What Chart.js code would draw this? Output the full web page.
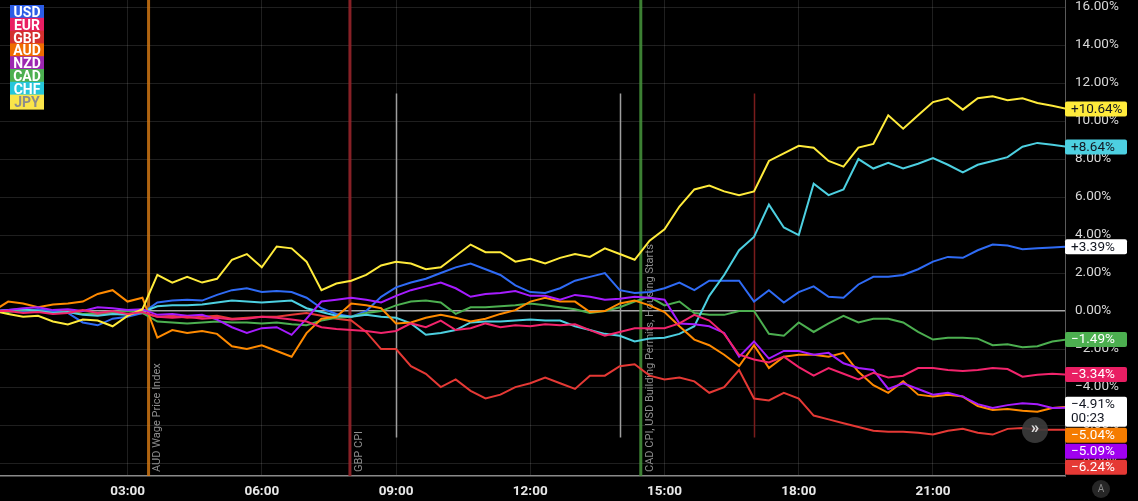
<!DOCTYPE html>
<html>
<head>
<meta charset="utf-8">
<script src="https://cdn.jsdelivr.net/npm/chart.js@4.4.1/dist/chart.umd.min.js"></script>
<style>
  html, body { margin: 0; padding: 0; background: #000; }
  #wrap { position: relative; width: 1138px; height: 501px; }
</style>
</head>
<body>
<div id="wrap"><canvas id="fxChart" width="1138" height="501"></canvas></div>
<script>
// --- data: % change since 00:00, one reading every 20 minutes ---
const HOURS = [];
for (let k = 0; k <= 72; k++) HOURS.push(k / 3);

const USD = [0, 0.05, -0.05, 0.1, 0, -0.1, -0.6, -0.75, -0.4, -0.3,
  -0.1, 0.45, 0.55, 0.6, 0.55, 0.85, 1.1, 1.2, 1.0, 1.05,
  1.0, 0.7, 0.15, -0.15, -0.3, 0.0, 0.75, 1.25, 1.5, 1.7,
  2.0, 2.3, 2.5, 2.2, 1.9, 1.35, 1.0, 0.95, 1.2, 1.6,
  1.8, 2.0, 1.1, 0.95, 1.0, 1.2, 1.5, 1.1, 1.6, 1.6,
  1.6, 0.5, 1.1, 0.45, 1.0, 1.3, 0.75, 0.7, 1.4, 1.8,
  1.8, 1.9, 2.2, 2.6, 2.85, 2.8, 3.2, 3.5, 3.45, 3.25,
  3.3, 3.35, 3.39];
const EUR = [0, 0, -0.1, -0.05, -0.15, -0.1, 0.05, -0.1, 0, -0.15,
  -0.05, -0.3, -0.35, -0.3, -0.4, -0.35, -0.45, -0.4, -0.3, -0.35,
  -0.45, -0.55, -0.85, -0.95, -1.0, -1.05, -1.15, -1.05, -0.65, -0.85,
  -0.5, -1.0, -0.9, -0.65, -0.85, -0.75, -0.8, -0.7, -0.75, -0.7,
  -1.0, -1.3, -1.1, -0.9, -0.9, -0.9, -0.65, -0.2, -0.5, -1.2,
  -2.3, -2.55, -2.7, -2.4, -2.95, -3.4, -3.0, -3.3, -3.6, -3.25,
  -3.5, -3.4, -3.0, -3.0, -3.1, -3.15, -3.1, -3.0, -3.05, -3.45,
  -3.35, -3.3, -3.34];
const GBP = [0, 0.05, -0.05, 0, -0.1, 0.05, -0.15, -0.2, -0.1, -0.15,
  -0.1, -0.3, -0.25, -0.35, -0.3, -0.25, -0.4, -0.35, -0.3, -0.3,
  -0.2, -0.1, -0.25, -0.4, -0.5, -1.1, -2.0, -2.0, -2.9, -3.3,
  -4.0, -3.6, -4.2, -4.6, -4.4, -4.0, -3.8, -3.5, -3.8, -4.1,
  -3.4, -3.4, -2.9, -2.8, -3.4, -3.6, -3.5, -3.7, -4.3, -4.0,
  -3.1, -4.6, -4.7, -4.3, -4.6, -5.5, -5.7, -5.9, -6.1, -6.3,
  -6.35, -6.35, -6.4, -6.5, -6.3, -6.2, -6.4, -6.5, -6.2, -6.15,
  -6.25, -6.25, -6.24];
const AUD = [0, 0.5, 0.4, 0.2, 0.35, 0.4, 0.5, 0.9, 1.1, 0.5,
  0.7, -1.4, -1.0, -1.15, -1.05, -1.2, -1.85, -2.0, -1.8, -2.1,
  -2.4, -1.16, -0.4, -0.3, 0.4, 0.3, 0.15, -0.65, -0.6, -0.35,
  -0.2, -0.35, -0.55, -0.4, -0.15, 0.05, 0.5, 0.7, 0.5, 0.5,
  -0.05, 0.0, 0.4, 0.55, 0.3, -0.05, -0.8, -1.5, -1.8, -2.3,
  -2.9, -1.8, -3.0, -2.4, -2.3, -2.3, -2.4, -2.2, -3.2, -3.9,
  -4.3, -3.7, -4.4, -4.5, -4.4, -4.5, -5.0, -5.2, -5.15, -5.25,
  -5.3, -5.1, -5.04];
const NZD = [0, 0.05, 0.15, 0.2, 0.05, 0.1, 0, 0.2, 0.15, 0.05,
  0.1, -0.2, -0.15, -0.25, -0.2, -0.45, -0.85, -1.15, -0.9, -0.85,
  -1.25, -0.4, 0.5, 0.6, 0.7, 0.6, 0.45, 0.8, 1.1, 1.3,
  1.5, 1.2, 0.75, 0.9, 0.95, 1.05, 0.8, 0.8, 0.6, 0.85,
  0.75, 0.6, 0.65, 0.75, 0.7, 0.6, -0.65, -0.7, -0.8, -1.15,
  -2.4, -1.6, -2.5, -2.1, -2.1, -2.3, -2.2, -2.75, -3.0, -3.1,
  -4.1, -3.8, -4.1, -4.4, -4.3, -4.5, -4.9, -5.1, -4.95, -4.85,
  -4.9, -5.1, -5.09];
const CAD = [0, -0.05, 0.05, 0, -0.1, -0.05, -0.15, -0.1, -0.05, 0,
  -0.1, -0.55, -0.6, -0.65, -0.6, -0.55, -0.6, -0.6, -0.65, -0.6,
  -0.7, -0.75, -0.5, -0.35, -0.3, -0.1, 0.0, 0.3, 0.5, 0.55,
  0.45, -0.15, 0.2, 0.2, 0.25, 0.3, 0.4, 0.3, 0.2, 0.1,
  -0.1, 0.0, 0.2, 0.5, 0.75, 0.3, 0.5, -0.1, -0.2, -0.2,
  0.0, 0.0, -1.2, -1.3, -0.6, -1.1, -0.65, -0.25, -0.6, -0.4,
  -0.4, -0.6, -1.1, -1.5, -1.4, -1.4, -1.45, -1.8, -1.75, -1.9,
  -1.85, -1.6, -1.49];
const CHF = [0, 0.05, 0.1, 0, -0.1, -0.05, -0.2, -0.25, -0.15, -0.2,
  -0.05, 0.25, 0.3, 0.3, 0.35, 0.45, 0.55, 0.5, 0.45, 0.5,
  0.55, 0.15, -0.05, -0.25, -0.3, -0.2, -0.3, -0.35, -0.65, -1.25,
  -1.15, -1.0, -0.6, -0.55, -0.55, -0.5, -0.45, -0.5, -0.5, -0.8,
  -1.0, -1.2, -1.3, -1.6, -1.45, -1.4, -1.2, -0.8, 0.8, 1.9,
  3.2, 3.9, 5.6, 4.4, 4.0, 6.7, 6.1, 6.4, 8.0, 7.5,
  7.8, 7.5, 7.75, 8.05, 7.7, 7.3, 7.7, 7.9, 8.1, 8.65,
  8.85, 8.75, 8.64];
const JPY = [0, -0.15, -0.3, -0.25, -0.55, -0.7, -0.45, -0.5, -0.8, -0.25,
  0.1, 1.9, 1.5, 1.8, 1.5, 1.7, 2.7, 3.0, 2.3, 3.4,
  3.3, 2.6, 1.1, 1.45, 1.6, 1.9, 2.4, 2.6, 2.5, 2.2,
  2.3, 2.9, 3.5, 3.1, 3.1, 2.6, 2.75, 2.5, 2.8, 3.0,
  2.85, 3.3, 3.0, 2.7, 3.7, 4.3, 5.5, 6.4, 6.6, 6.3,
  6.1, 6.3, 7.9, 8.3, 8.7, 8.6, 7.9, 7.6, 8.6, 8.8,
  10.3, 9.6, 10.3, 11.0, 11.2, 10.6, 11.2, 11.3, 11.1, 11.2,
  10.95, 10.8, 10.64];

const X_TICKS = [3, 6, 9, 12, 15, 18, 21];
const Y_TICKS = [-8, -6, -4, -2, 0, 2, 4, 6, 8, 10, 12, 14, 16];
const CURRENT_VALUE = -4.91;      // white price label
const CURRENT_TIMER = '00:23';

// --- series styling ---
const SERIES = [
  { name: 'EUR', data: EUR, line: '#f2246c', tag: '#e91e63', text: '#fff' },
  { name: 'JPY', data: JPY, line: '#ffeb3b', tag: '#ffeb3b', text: '#131722' },
  { name: 'NZD', data: NZD, line: '#a61cff', tag: '#a000f0', text: '#fff' },
  { name: 'AUD', data: AUD, line: '#ff8a00', tag: '#f57c00', text: '#fff' },
  { name: 'CHF', data: CHF, line: '#4dd0e1', tag: '#4dd0e1', text: '#131722' },
  { name: 'CAD', data: CAD, line: '#4caf50', tag: '#4caf50', text: '#fff' },
  { name: 'USD', data: USD, line: '#2f6bf5', tag: '#ffffff', text: '#131722' },
  { name: 'GBP', data: GBP, line: '#e53935', tag: '#e53935', text: '#fff' }
];
const LEGEND = [
  { name: 'USD', bg: '#2b5ce6', fg: '#fff' },
  { name: 'EUR', bg: '#e91e63', fg: '#fff' },
  { name: 'GBP', bg: '#d32f2f', fg: '#fff' },
  { name: 'AUD', bg: '#ef6c00', fg: '#fff' },
  { name: 'NZD', bg: '#9c27b0', fg: '#fff' },
  { name: 'CAD', bg: '#4caf50', fg: '#fff' },
  { name: 'CHF', bg: '#26c6da', fg: '#fff' },
  { name: 'JPY', bg: '#fbe54a', fg: '#8c8c8c' }
];

// event markers (time in hours)
const EVENTS = [
  { t: 3.47, color: 'rgba(220,125,20,0.8)', text: 'AUD Wage Price Index' },
  { t: 7.97, color: 'rgba(150,35,42,0.9)', text: 'GBP CPI' },
  { t: 14.47, color: 'rgba(70,150,60,0.85)', text: 'CAD CPI, USD Building Permits, Housing Starts' }
];
const SESSIONS = [
  { t: 9.0, color: '#9e9e9e' },
  { t: 14.0, color: '#9e9e9e' },
  { t: 17.0, color: '#7a1c1c' }
];
const SESSION_RANGE = [11.45, -6.65];

const FONT = 'Roboto, "Liberation Sans", Arial, sans-serif';

function fmtPct(v, sign) {
  const s = Math.abs(v).toFixed(2) + '%';
  if (v < 0) return '\u2212' + s;
  return (sign && v > 0 ? '+' : '') + s;
}

// --- plugin: event lines behind the series ---
const eventPlugin = {
  id: 'events',
  beforeDatasetsDraw(chart) {
    const { ctx, chartArea: a, scales: { x, y } } = chart;
    ctx.save();
    SESSIONS.forEach(s => {
      const px = Math.round(x.getPixelForValue(s.t)) + 0.5;
      ctx.strokeStyle = s.color;
      ctx.lineWidth = 1.5;
      ctx.beginPath();
      ctx.moveTo(px, y.getPixelForValue(SESSION_RANGE[0]));
      ctx.lineTo(px, y.getPixelForValue(SESSION_RANGE[1]));
      ctx.stroke();
    });
    EVENTS.forEach(e => {
      const px = x.getPixelForValue(e.t);
      ctx.fillStyle = e.color;
      ctx.fillRect(px - 1.5, a.top, 3, a.bottom - a.top);
      ctx.save();
      ctx.translate(px + 9, a.bottom - 4);
      ctx.rotate(-Math.PI / 2);
      ctx.font = '11px ' + FONT;
      ctx.fillStyle = '#8e8e8e';
      ctx.textAlign = 'left';
      ctx.textBaseline = 'middle';
      ctx.fillText(e.text, 0, 0);
      ctx.restore();
    });
    ctx.restore();
  }
};

// --- plugin: legend + right-hand value tags ---
const overlayPlugin = {
  id: 'overlay',
  afterDraw(chart) {
    const { ctx, chartArea: a, scales: { y } } = chart;
    ctx.save();

    // legend, stacked boxes top-left
    ctx.font = 'bold 14px ' + FONT;
    ctx.textAlign = 'center';
    ctx.textBaseline = 'middle';
    LEGEND.forEach((l, i) => {
      const top = 5 + i * 12.8;
      ctx.fillStyle = l.bg;
      ctx.fillRect(10, top, 34, 15);
      ctx.fillStyle = l.fg;
      ctx.fillText(l.name, 27, top + 8.5);
    });

    // value tags on the price axis
    const tags = SERIES.map(s => ({
      v: s.data[s.data.length - 1], bg: s.tag, fg: s.text, lines: [fmtPct(s.data[s.data.length - 1], true)]
    }));
    tags.push({ v: CURRENT_VALUE, bg: '#ffffff', fg: '#131722', lines: [fmtPct(CURRENT_VALUE, true), CURRENT_TIMER] });
    tags.sort((p, q) => q.v - p.v);
    let prevBottom = -Infinity;
    ctx.font = '13.5px ' + FONT;
    ctx.textAlign = 'left';
    tags.forEach(t => {
      const h = t.lines.length === 1 ? 15 : 30;
      let top = y.getPixelForValue(t.v) - 7.5;
      if (top < prevBottom + 1) top = prevBottom + 1;
      prevBottom = top + h;
      ctx.fillStyle = t.bg;
      ctx.beginPath();
      ctx.roundRect(a.right, top, 62, h, 2);
      ctx.fill();
      ctx.fillStyle = t.fg;
      t.lines.forEach((ln, i) => ctx.fillText(ln, a.right + 6, top + 8 + i * 14));
    });

    // scroll button and auto-scale badge
    ctx.fillStyle = 'rgba(60,60,60,0.9)';
    ctx.beginPath();
    ctx.arc(1035, 430, 13, 0, Math.PI * 2);
    ctx.fill();
    ctx.fillStyle = '#e0e0e0';
    ctx.font = 'bold 17px ' + FONT;
    ctx.textAlign = 'center';
    ctx.fillText('\u00bb', 1035, 429);

    ctx.fillStyle = '#262626';
    ctx.beginPath();
    ctx.arc(1101, 489, 9, 0, Math.PI * 2);
    ctx.fill();
    ctx.fillStyle = '#8a8a8a';
    ctx.font = '10px ' + FONT;
    ctx.fillText('A', 1101, 489.5);
    ctx.restore();
  }
};

Chart.defaults.font.family = FONT;

new Chart(document.getElementById('fxChart').getContext('2d'), {
  type: 'line',
  data: {
    datasets: SERIES.map(s => ({
      label: s.name,
      data: s.data.map((v, i) => ({ x: HOURS[i], y: v })),
      borderColor: s.line,
      borderWidth: 2,
      pointRadius: 0,
      tension: 0
    }))
  },
  options: {
    responsive: false,
    animation: false,
    layout: { padding: 0 },
    plugins: { legend: { display: false }, tooltip: { enabled: false } },
    scales: {
      x: {
        type: 'linear',
        min: 0.15,
        max: 23.95,
        afterBuildTicks: s => { s.ticks = X_TICKS.map(v => ({ value: v })); },
        afterFit: s => { s.height = 25; s.paddingLeft = 0; s.paddingRight = 0; },
        ticks: {
          color: '#e8e8e8',
          font: { size: 13.5, weight: 'bold' },
          padding: 8,
          maxRotation: 0,
          callback: v => String(v).padStart(2, '0') + ':00'
        },
        grid: { color: 'rgba(255,255,255,0.12)', drawTicks: false },
        border: { color: '#8a8a8a', width: 1.5 }
      },
      y: {
        position: 'right',
        min: -8.68,
        max: 16.37,
        afterBuildTicks: s => { s.ticks = Y_TICKS.map(v => ({ value: v })); },
        afterFit: s => { s.width = 73; s.paddingTop = 0; s.paddingBottom = 0; },
        ticks: {
          color: '#d8d8d8',
          font: { size: 13.5 },
          padding: 10,
          callback: v => fmtPct(v, false)
        },
        grid: {
          color: c => c.tick && c.tick.value === 0 ? '#a8a8a8' : 'rgba(255,255,255,0.12)',
          lineWidth: c => c.tick && c.tick.value === 0 ? 1.5 : 1,
          drawTicks: false
        },
        border: { color: '#5a5a5a' }
      }
    }
  },
  plugins: [eventPlugin, overlayPlugin]
});
</script>
</body>
</html>
